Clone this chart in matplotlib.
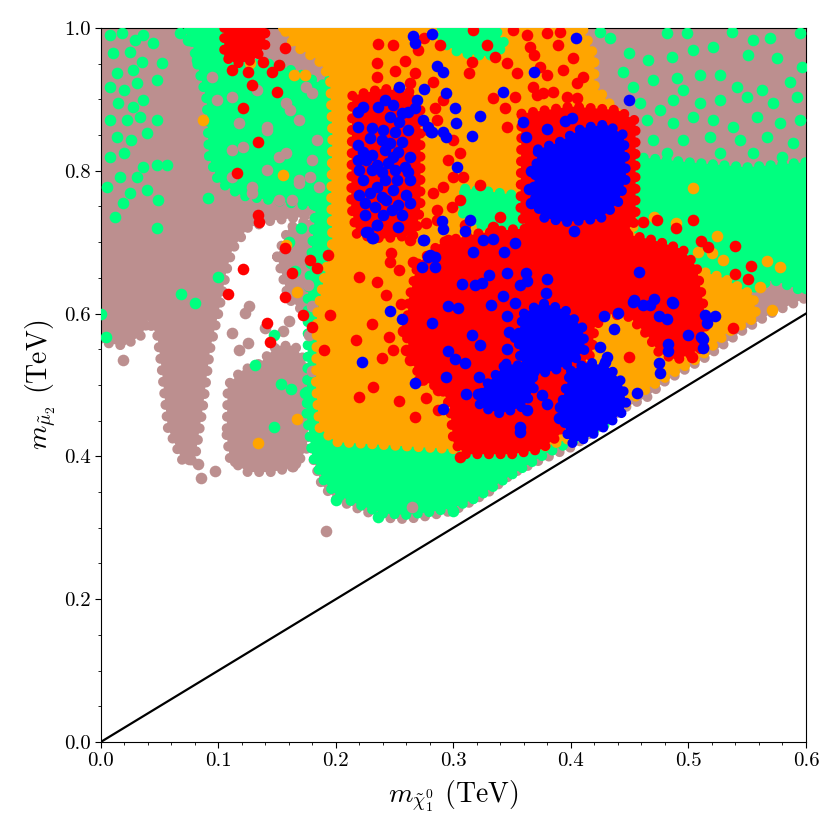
import matplotlib
matplotlib.use("Agg")
import matplotlib.pyplot as plt
from matplotlib.ticker import MultipleLocator

plt.rcParams['font.family'] = 'serif'
plt.rcParams['font.serif'] = ['cmr10', 'DejaVu Serif']
plt.rcParams['mathtext.fontset'] = 'cm'
plt.rcParams['axes.formatter.use_mathtext'] = True

BROWN = '#bc8f8f'
GREEN = '#00ff7f'
ORANGE = '#ffa500'
RED = '#ff0000'
BLUE = '#0000ff'

# ---- dense regions of the scan (outline vertices, TeV) ----
brown_regions = [
    [(0.0, 1.0), (0.2, 1.0), (0.19, 0.74), (0.17, 0.735), (0.145, 0.73), (0.125, 0.72),
     (0.112, 0.69), (0.107, 0.66), (0.1, 0.6), (0.093, 0.55), (0.087, 0.47), (0.08, 0.395),
     (0.07, 0.392), (0.057, 0.44), (0.052, 0.52), (0.048, 0.57), (0.04, 0.59), (0.035, 0.57),
     (0.02, 0.555), (0.0, 0.56)],
    [(0.107, 0.43), (0.11, 0.395), (0.125, 0.378), (0.145, 0.378), (0.165, 0.385),
     (0.175, 0.41), (0.178, 0.47), (0.175, 0.53), (0.165, 0.555), (0.15, 0.555),
     (0.135, 0.53), (0.12, 0.52), (0.108, 0.5)],
    [(0.15, 0.68), (0.16, 0.72), (0.19, 0.74), (0.19, 0.62), (0.175, 0.6), (0.16, 0.62)],
    [(0.19, 1.0), (0.6, 1.0), (0.6, 0.622), (0.57, 0.6), (0.545, 0.575), (0.516, 0.54),
     (0.478, 0.503), (0.465, 0.483), (0.444, 0.467), (0.402, 0.414), (0.37, 0.392),
     (0.35, 0.376), (0.33, 0.35), (0.31, 0.332), (0.30, 0.324), (0.28, 0.317), (0.26, 0.312),
     (0.24, 0.314), (0.22, 0.326), (0.20, 0.34), (0.188, 0.36), (0.18, 0.40), (0.18, 0.5),
     (0.185, 0.7)],
]

green_regions = [
    [(0.175, 0.46), (0.18, 0.40), (0.19, 0.365), (0.20, 0.347), (0.22, 0.332), (0.24, 0.32),
     (0.26, 0.318), (0.28, 0.322), (0.30, 0.328), (0.32, 0.342), (0.34, 0.364), (0.36, 0.385),
     (0.38, 0.405), (0.40, 0.42), (0.43, 0.445), (0.40, 0.5), (0.30, 0.6), (0.25, 0.9),
     (0.21, 0.96), (0.198, 0.95), (0.19, 0.9), (0.185, 0.78), (0.18, 0.7), (0.176, 0.62),
     (0.176, 0.54)],
    [(0.452, 0.82), (0.5, 0.812), (0.55, 0.805), (0.6, 0.812), (0.6, 0.63), (0.572, 0.647),
     (0.544, 0.628), (0.53, 0.63), (0.505, 0.645), (0.475, 0.665), (0.455, 0.685), (0.45, 0.74)],
    [(0.075, 1.0), (0.105, 1.0), (0.11, 0.96), (0.13, 0.95), (0.15, 0.95), (0.17, 0.935),
     (0.19, 0.92), (0.195, 0.85), (0.192, 0.77), (0.18, 0.75), (0.16, 0.755), (0.14, 0.76),
     (0.12, 0.765), (0.1, 0.785), (0.092, 0.82), (0.09, 0.9), (0.082, 0.95)],
]

orange_regions = [
    [(0.155, 1.0), (0.41, 1.0), (0.42, 0.96), (0.42, 0.92), (0.44, 0.88), (0.455, 0.70),
     (0.47, 0.68), (0.5, 0.665), (0.53, 0.65), (0.555, 0.625), (0.558, 0.595), (0.533, 0.573),
     (0.51, 0.539), (0.48, 0.51), (0.467, 0.497), (0.45, 0.478), (0.43, 0.45), (0.40, 0.425),
     (0.37, 0.41), (0.35, 0.405), (0.30, 0.41), (0.25, 0.415), (0.20, 0.42), (0.186, 0.44),
     (0.183, 0.5), (0.184, 0.6), (0.19, 0.65), (0.197, 0.7), (0.196, 0.76), (0.197, 0.85),
     (0.195, 0.93), (0.185, 0.955), (0.165, 0.975)],
]

# green patches seen through the orange cloud
green_over = [
    [(0.31, 0.775), (0.335, 0.77), (0.357, 0.765), (0.357, 0.72), (0.34, 0.715),
     (0.318, 0.725), (0.305, 0.745)],
    [(0.29, 1.0), (0.335, 1.0), (0.345, 0.975), (0.33, 0.96), (0.305, 0.965), (0.29, 0.98)],
]

red_regions = [
    [(0.105, 1.0), (0.14, 1.0), (0.14, 0.975), (0.13, 0.955), (0.115, 0.95), (0.105, 0.96)],
    [(0.214, 0.905), (0.24, 0.915), (0.265, 0.91), (0.272, 0.89), (0.272, 0.75), (0.268, 0.71),
     (0.24, 0.705), (0.218, 0.71), (0.213, 0.75)],
    [(0.358, 0.88), (0.40, 0.89), (0.44, 0.885), (0.455, 0.87), (0.455, 0.73), (0.445, 0.71),
     (0.40, 0.705), (0.365, 0.71), (0.357, 0.74)],
    [(0.27, 0.67), (0.29, 0.70), (0.32, 0.712), (0.35, 0.718), (0.40, 0.722), (0.44, 0.714),
     (0.47, 0.703), (0.495, 0.69), (0.507, 0.665), (0.512, 0.62), (0.515, 0.585), (0.51, 0.55),
     (0.49, 0.535), (0.475, 0.545), (0.465, 0.57), (0.45, 0.595), (0.43, 0.6), (0.42, 0.58),
     (0.418, 0.545), (0.405, 0.52), (0.395, 0.47), (0.39, 0.43), (0.375, 0.41), (0.35, 0.403),
     (0.31, 0.403), (0.30, 0.42), (0.297, 0.47), (0.29, 0.495), (0.275, 0.505), (0.265, 0.53),
     (0.26, 0.57), (0.262, 0.62)],
]

blue_regions = [
    [(0.372, 0.83), (0.39, 0.84), (0.41, 0.86), (0.43, 0.865), (0.445, 0.85), (0.447, 0.79),
     (0.44, 0.755), (0.425, 0.733), (0.395, 0.728), (0.375, 0.735), (0.368, 0.77)],
    [(0.36, 0.60), (0.375, 0.615), (0.395, 0.605), (0.41, 0.58), (0.412, 0.55), (0.40, 0.53),
     (0.385, 0.52), (0.37, 0.515), (0.357, 0.535), (0.355, 0.57)],
    [(0.345, 0.53), (0.365, 0.525), (0.37, 0.5), (0.36, 0.47), (0.34, 0.46), (0.322, 0.47),
     (0.325, 0.495)],
    [(0.40, 0.52), (0.415, 0.532), (0.432, 0.525), (0.443, 0.505), (0.447, 0.475),
     (0.444, 0.462), (0.43, 0.443), (0.414, 0.426), (0.40, 0.418), (0.395, 0.44), (0.393, 0.48)],
]

# ---- isolated points (TeV) ----
brown_pts = [
    (0.112, 0.829), (0.141, 0.862), (0.161, 0.885), (0.184, 0.843), (0.169, 0.783),
    (0.129, 0.777), (0.152, 0.819), (0.099, 0.899), (0.180, 0.909), (0.118, 0.867),
    (0.178, 0.791), (0.163, 0.759), (0.095, 0.931), (0.112, 0.903), (0.133, 0.913),
    (0.158, 0.895), (0.175, 0.917), (0.169, 0.871), (0.141, 0.857), (0.121, 0.833),
    (0.158, 0.825), (0.180, 0.815), (0.112, 0.791), (0.141, 0.801), (0.169, 0.787),
    (0.186, 0.777), (0.129, 0.769), (0.152, 0.759), (0.107, 0.759), (0.084, 0.787),
    (0.176, 0.64), (0.18, 0.61), (0.177, 0.57), (0.18, 0.52),
    (0.123, 0.601), (0.118, 0.549), (0.112, 0.573), (0.126, 0.611), (0.125, 0.559),
    (0.192, 0.296), (0.165, 0.391), (0.075, 0.396), (0.083, 0.390), (0.114, 0.393),
    (0.163, 0.387), (0.019, 0.535), (0.085, 0.37), (0.097, 0.38), (0.14, 0.58),
    (0.16, 0.59), (0.155, 0.575), (0.265, 0.329),
]

green_pts = [
    (0.425, 0.995), (0.433, 0.986), (0.449, 0.965), (0.444, 0.938), (0.466, 0.955),
    (0.482, 0.993), (0.499, 0.993), (0.504, 0.969), (0.486, 0.960), (0.521, 0.973),
    (0.537, 0.994), (0.555, 0.983), (0.569, 0.986), (0.595, 0.993), (0.575, 0.958),
    (0.551, 0.962), (0.527, 0.934), (0.510, 0.934), (0.490, 0.930), (0.470, 0.927),
    (0.453, 0.917), (0.495, 0.913), (0.541, 0.917), (0.563, 0.913), (0.586, 0.924),
    (0.597, 0.945), (0.459, 0.895), (0.476, 0.885), (0.487, 0.899), (0.510, 0.895),
    (0.527, 0.899), (0.550, 0.903), (0.572, 0.895), (0.592, 0.903), (0.465, 0.871),
    (0.487, 0.867), (0.504, 0.875), (0.521, 0.871), (0.538, 0.862), (0.558, 0.875),
    (0.578, 0.867), (0.595, 0.871), (0.470, 0.843), (0.495, 0.843), (0.518, 0.847),
    (0.544, 0.843), (0.567, 0.847), (0.589, 0.839), (0.482, 0.825), (0.527, 0.825),
    (0.555, 0.825), (0.580, 0.819),
    # far-left strip
    (0.008, 0.990), (0.018, 0.993), (0.029, 0.983), (0.036, 0.990), (0.010, 0.965),
    (0.025, 0.966), (0.035, 0.952), (0.014, 0.937), (0.027, 0.941), (0.008, 0.917),
    (0.020, 0.913), (0.031, 0.923), (0.015, 0.895), (0.027, 0.889), (0.036, 0.899),
    (0.008, 0.871), (0.022, 0.871), (0.033, 0.875), (0.048, 0.871), (0.014, 0.847),
    (0.026, 0.843), (0.039, 0.853), (0.008, 0.819), (0.020, 0.825), (0.036, 0.805),
    (0.048, 0.808), (0.056, 0.808), (0.016, 0.791), (0.031, 0.791), (0.005, 0.777),
    (0.025, 0.769), (0.039, 0.773), (0.049, 0.759), (0.019, 0.755), (0.012, 0.735),
    (0.048, 0.720), (0.048, 0.927), (0.052, 0.951), (0.044, 0.979), (0.067, 0.993),
    (0.074, 0.983), (0.082, 0.955),
    # around the white gap and the lower edge
    (0.100, 0.651), (0.080, 0.615), (0.004, 0.567), (0.147, 0.570), (0.131, 0.528),
    (0.091, 0.762), (0.153, 0.501), (0.147, 0.441), (0.174, 0.489), (0.162, 0.494),
    (0.200, 0.339), (0.236, 0.315), (0.300, 0.324), (0.165, 0.66), (0.16, 0.70),
    (0.17, 0.72), (0.068, 0.628), (0.0, 0.60),
]

orange_pts = [
    (0.504, 0.776), (0.471, 0.735), (0.489, 0.727), (0.524, 0.708), (0.508, 0.686),
    (0.520, 0.685), (0.529, 0.675), (0.567, 0.674), (0.578, 0.665), (0.561, 0.637),
    (0.571, 0.605), (0.087, 0.871), (0.127, 0.951), (0.155, 0.794), (0.164, 0.934),
    (0.174, 0.934), (0.199, 0.807), (0.203, 0.715), (0.167, 0.630), (0.158, 0.696),
    (0.134, 0.419), (0.167, 0.452),
]

red_pts = [
    (0.236, 0.978), (0.249, 0.976), (0.235, 0.951), (0.259, 0.954), (0.250, 0.940),
    (0.235, 0.931), (0.275, 0.986), (0.270, 0.969), (0.289, 0.976), (0.316, 0.952),
    (0.313, 0.937), (0.267, 0.937), (0.263, 0.923), (0.283, 0.924), (0.291, 0.899),
    (0.284, 0.888), (0.278, 0.857), (0.286, 0.871), (0.300, 0.843), (0.306, 0.825),
    (0.295, 0.815), (0.300, 0.791), (0.308, 0.791), (0.291, 0.777), (0.306, 0.759),
    (0.299, 0.749), (0.323, 0.780), (0.283, 0.769), (0.286, 0.731), (0.295, 0.703),
    (0.334, 0.902), (0.344, 0.888), (0.346, 0.861), (0.352, 0.903), (0.346, 0.951),
    (0.354, 0.937), (0.368, 0.917), (0.376, 0.909), (0.385, 0.910), (0.393, 0.941),
    (0.397, 0.903), (0.405, 0.902), (0.410, 0.931), (0.374, 0.945), (0.365, 0.973),
    (0.380, 0.993), (0.391, 0.994), (0.351, 0.997), (0.329, 0.976), (0.317, 0.997),
    (0.334, 0.721), (0.340, 0.713), (0.363, 0.990), (0.369, 0.962), (0.380, 0.934),
    (0.405, 0.923), (0.371, 0.906), (0.389, 0.976), (0.335, 0.960), (0.402, 0.958),
    (0.112, 0.941), (0.125, 0.938), (0.129, 0.920), (0.146, 0.938), (0.152, 0.948),
    (0.138, 0.952), (0.157, 0.972), (0.150, 0.910), (0.121, 0.888), (0.134, 0.840),
    (0.116, 0.797), (0.134, 0.738), (0.135, 0.728), (0.157, 0.692), (0.121, 0.662),
    (0.163, 0.657), (0.178, 0.675), (0.193, 0.682), (0.184, 0.664), (0.108, 0.627),
    (0.157, 0.623), (0.172, 0.598), (0.180, 0.581), (0.141, 0.587), (0.144, 0.560),
    (0.195, 0.598), (0.190, 0.549), (0.220, 0.651), (0.231, 0.585), (0.217, 0.563),
    (0.220, 0.483), (0.232, 0.497), (0.254, 0.478), (0.246, 0.672), (0.247, 0.685),
    (0.235, 0.644), (0.243, 0.626), (0.255, 0.613), (0.245, 0.567), (0.239, 0.538),
    (0.249, 0.549), (0.260, 0.549), (0.266, 0.549), (0.257, 0.576), (0.267, 0.455),
    (0.263, 0.535), (0.278, 0.517), (0.271, 0.507), (0.287, 0.493), (0.277, 0.482),
    (0.287, 0.465), (0.277, 0.727), (0.263, 0.703), (0.254, 0.661), (0.266, 0.672),
    (0.271, 0.650), (0.280, 0.633), (0.274, 0.605), (0.286, 0.745), (0.310, 0.724),
    (0.306, 0.399), (0.340, 0.735), (0.461, 0.728), (0.473, 0.731), (0.489, 0.720),
    (0.504, 0.731), (0.511, 0.702), (0.517, 0.693), (0.540, 0.695), (0.553, 0.667),
    (0.540, 0.655), (0.551, 0.648), (0.538, 0.580), (0.449, 0.539), (0.504, 0.567),
    (0.512, 0.553), (0.503, 0.539),
]

# blue points inside the left red box
blue_box_pts = [
    (0.219, 0.882), (0.223, 0.889), (0.236, 0.889), (0.242, 0.899), (0.249, 0.892),
    (0.256, 0.881), (0.261, 0.882), (0.267, 0.888), (0.246, 0.875), (0.254, 0.868),
    (0.219, 0.861), (0.231, 0.860), (0.240, 0.857), (0.250, 0.854), (0.261, 0.857),
    (0.229, 0.846), (0.239, 0.843), (0.246, 0.839), (0.256, 0.840), (0.219, 0.836),
    (0.223, 0.826), (0.231, 0.822), (0.242, 0.829), (0.249, 0.819), (0.253, 0.826),
    (0.263, 0.819), (0.219, 0.815), (0.226, 0.815), (0.235, 0.808), (0.244, 0.811),
    (0.259, 0.805), (0.220, 0.801), (0.231, 0.801), (0.239, 0.798), (0.250, 0.801),
    (0.261, 0.798), (0.223, 0.787), (0.235, 0.777), (0.242, 0.787), (0.252, 0.787),
    (0.263, 0.787), (0.220, 0.766), (0.229, 0.769), (0.239, 0.763), (0.249, 0.773),
    (0.260, 0.766), (0.225, 0.755), (0.233, 0.749), (0.243, 0.759), (0.253, 0.752),
    (0.263, 0.755), (0.248, 0.745), (0.256, 0.738), (0.240, 0.738), (0.225, 0.738),
    (0.235, 0.724), (0.253, 0.721), (0.227, 0.714), (0.232, 0.706), (0.274, 0.703),
    (0.254, 0.917), (0.269, 0.899), (0.278, 0.861), (0.282, 0.855),
]

blue_pts = [
    (0.266, 0.989), (0.282, 0.992), (0.267, 0.979), (0.286, 0.947), (0.291, 0.938),
    (0.275, 0.915), (0.294, 0.909), (0.301, 0.888),
    (0.274, 0.871), (0.281, 0.855), (0.291, 0.855), (0.302, 0.867), (0.294, 0.847),
    (0.316, 0.849), (0.323, 0.877), (0.303, 0.805), (0.342, 0.910), (0.369, 0.938),
    (0.404, 0.986), (0.449, 0.899), (0.401, 0.874), (0.359, 0.868), (0.290, 0.730),
    (0.291, 0.718), (0.314, 0.731), (0.310, 0.716), (0.275, 0.703), (0.226, 0.714),
    (0.231, 0.706), (0.235, 0.724), (0.325, 0.703), (0.334, 0.704), (0.352, 0.699),
    (0.343, 0.686), (0.403, 0.716), (0.317, 0.686), (0.280, 0.682),
    (0.284, 0.679), (0.278, 0.679), (0.284, 0.665), (0.273, 0.665), (0.330, 0.654),
    (0.346, 0.657), (0.362, 0.657), (0.380, 0.648), (0.363, 0.646), (0.357, 0.640),
    (0.324, 0.643), (0.318, 0.640), (0.307, 0.641), (0.342, 0.625), (0.295, 0.611),
    (0.304, 0.608), (0.332, 0.612), (0.352, 0.615), (0.379, 0.629), (0.458, 0.658),
    (0.453, 0.616), (0.461, 0.612), (0.467, 0.612), (0.487, 0.615), (0.475, 0.597),
    (0.482, 0.592), (0.440, 0.601), (0.428, 0.597), (0.437, 0.578), (0.514, 0.598),
    (0.523, 0.597), (0.516, 0.587), (0.512, 0.564), (0.512, 0.552), (0.483, 0.548),
    (0.475, 0.531), (0.476, 0.517), (0.456, 0.489), (0.282, 0.587), (0.295, 0.548),
    (0.301, 0.536), (0.316, 0.570), (0.291, 0.466), (0.346, 0.597), (0.323, 0.556),
    (0.347, 0.574), (0.346, 0.550), (0.352, 0.567), (0.310, 0.531), (0.294, 0.511),
    (0.322, 0.511), (0.311, 0.487), (0.321, 0.487), (0.357, 0.441), (0.357, 0.434),
    (0.363, 0.465), (0.380, 0.473), (0.375, 0.486), (0.390, 0.454), (0.391, 0.469),
    (0.454, 0.619), (0.471, 0.620), (0.486, 0.616), (0.500, 0.570), (0.511, 0.567),
    (0.483, 0.557), (0.425, 0.553), (0.431, 0.539), (0.429, 0.532), (0.246, 0.604),
    (0.256, 0.592), (0.222, 0.532), (0.267, 0.503), (0.362, 0.848), (0.366, 0.80),
    (0.364, 0.775), (0.38, 0.858), (0.395, 0.87), (0.366, 0.755),
]

diag_x = [0.0, 0.6]
diag_y = [0.0, 0.6]

DOT = 70  # marker area of one scan point
layer = [1]


def next_z():
    layer[0] += 1
    return layer[0]


def draw_regions(ax, regions, color):
    z = next_z()
    for poly in regions:
        xs = [p[0] for p in poly] + [poly[0][0]]
        ys = [p[1] for p in poly] + [poly[0][1]]
        ax.fill(xs, ys, color=color, lw=0, zorder=z)
        # dotted rim so the edge looks like a cloud of points
        ax.plot(xs, ys, color=color, lw=7.2, ls=(0, (0.01, 1.15)),
                dash_capstyle='round', zorder=z)


def draw_points(ax, pts, color):
    ax.scatter([p[0] for p in pts], [p[1] for p in pts], s=DOT, color=color,
               linewidths=0, zorder=next_z())


fig = plt.figure(figsize=(8.4, 8.4), dpi=100)
ax = fig.add_axes([0.120, 0.1167, 0.8395, 0.85])

draw_regions(ax, brown_regions, BROWN)
draw_regions(ax, green_regions, GREEN)
draw_points(ax, brown_pts, BROWN)
draw_points(ax, green_pts, GREEN)
draw_regions(ax, orange_regions, ORANGE)
draw_regions(ax, green_over, GREEN)
draw_points(ax, orange_pts, ORANGE)
draw_regions(ax, red_regions, RED)
draw_points(ax, red_pts, RED)
draw_regions(ax, blue_regions, BLUE)
draw_points(ax, blue_box_pts, BLUE)
draw_points(ax, blue_pts, BLUE)

ax.plot(diag_x, diag_y, color='black', lw=1.6, zorder=next_z())

ax.set_xlim(0.0, 0.6)
ax.set_ylim(0.0, 1.0)
ax.xaxis.set_major_locator(MultipleLocator(0.1))
ax.xaxis.set_minor_locator(MultipleLocator(0.02))
ax.yaxis.set_major_locator(MultipleLocator(0.2))
ax.yaxis.set_minor_locator(MultipleLocator(0.05))
ax.tick_params(which='major', length=4, width=0.8, labelsize=15)
ax.tick_params(which='minor', length=2.5, width=0.6)
ax.xaxis.set_major_formatter(plt.FuncFormatter(lambda v, p: '%.1f' % v))
ax.yaxis.set_major_formatter(plt.FuncFormatter(lambda v, p: '%.1f' % v))

ax.set_xlabel(r'$m_{\tilde{\chi}_1^0}$ (TeV)', fontsize=20, labelpad=6)
ax.set_ylabel(r'$m_{\tilde{\mu}_2}$ (TeV)', fontsize=20, labelpad=4)

fig.savefig('out.png', dpi=100)
